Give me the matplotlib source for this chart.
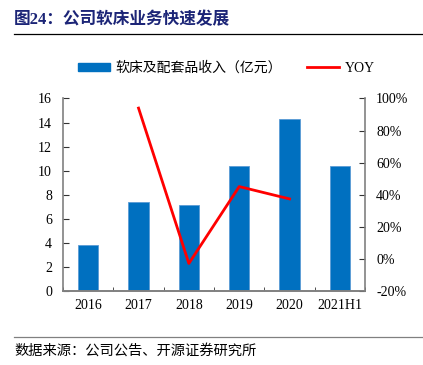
import numpy as np
import matplotlib
matplotlib.use("Agg")
import matplotlib.pyplot as plt
from matplotlib.patches import Patch
from matplotlib.lines import Line2D

plt.rcParams['font.family'] = ['Liberation Serif', 'Noto Sans CJK SC']

# datos
years = ["2016", "2017", "2018", "2019", "2020", "2021H1"]
ingresos = [3.8, 7.37, 7.14, 10.39, 14.28, 10.39]
yoy_years = ["2017", "2018", "2019", "2020"]
yoy = [94.0, -3.0, 45.0, 37.3]

azul = "#0070C0"
rojo = "#FF0000"
gris = "#808080"

fig = plt.figure(figsize=(4.23, 3.65), dpi=100)
ax = fig.add_axes([0.149, 0.2036, 0.714, 0.5266])
ax2 = ax.twinx()

x = np.arange(len(years))
ax.bar(x, ingresos, width=0.4, color=azul, edgecolor="#5B9BD5", linewidth=0.6, zorder=2)
xi = [years.index(y) for y in yoy_years]
ax2.plot(xi, yoy, color=rojo, linewidth=2.0, zorder=3)

ax.set_xlim(-0.5, len(years) - 0.5)
ax.set_ylim(0, 16)
ax.set_yticks(range(0, 17, 2))
ax2.set_ylim(-20, 100)
ax2.set_yticks(range(-20, 101, 20))
ax2.set_yticklabels([f"{v}%" for v in range(-20, 101, 20)])

ax.set_xticks(x)
ax.set_xticklabels(years)
ax.set_xticks(np.arange(-0.5, len(years), 1), minor=True)
ax.tick_params(axis="x", which="major", length=0, labelsize=10, pad=6)
ax.tick_params(axis="x", which="minor", length=3, direction="in", color="#333333")
ax.tick_params(axis="y", direction="in", length=4, labelsize=10, color="#333333", pad=8)
ax2.tick_params(axis="y", direction="in", length=4, labelsize=10, color="#333333", pad=8)

for a in (ax, ax2):
    a.spines["top"].set_visible(False)
    for s in ("left", "right", "bottom"):
        a.spines[s].set_color(gris)
        a.spines[s].set_linewidth(1.2)
ax.spines["right"].set_visible(False)
ax2.spines["left"].set_visible(False)

handles = [Patch(facecolor=azul, edgecolor=azul),
           Line2D([0], [0], color=rojo, linewidth=2.0)]
fig.legend(handles, ["软床及配套品收入（亿元）", "YOY"], loc="center",
           bbox_to_anchor=(0.535, 0.814), ncol=2, frameon=False, fontsize=10,
           handlelength=2.3, handleheight=0.55, columnspacing=1.8, handletextpad=0.4)

# titulo y fuente
fig.text(0.033, 0.945, "图24：公司软床业务快速发展", fontsize=12, fontweight="bold",
         color="#1C2577", va="center", ha="left")
fig.add_artist(Line2D([0.033, 1.0], [0.906, 0.906], color="black", linewidth=0.9))
fig.add_artist(Line2D([0.033, 1.0], [0.077, 0.077], color=gris, linewidth=0.9))
fig.text(0.033, 0.038, "数据来源：公司公告、开源证券研究所", fontsize=10.3,
         color="black", va="center", ha="left")

fig.savefig("out.png", dpi=100)
